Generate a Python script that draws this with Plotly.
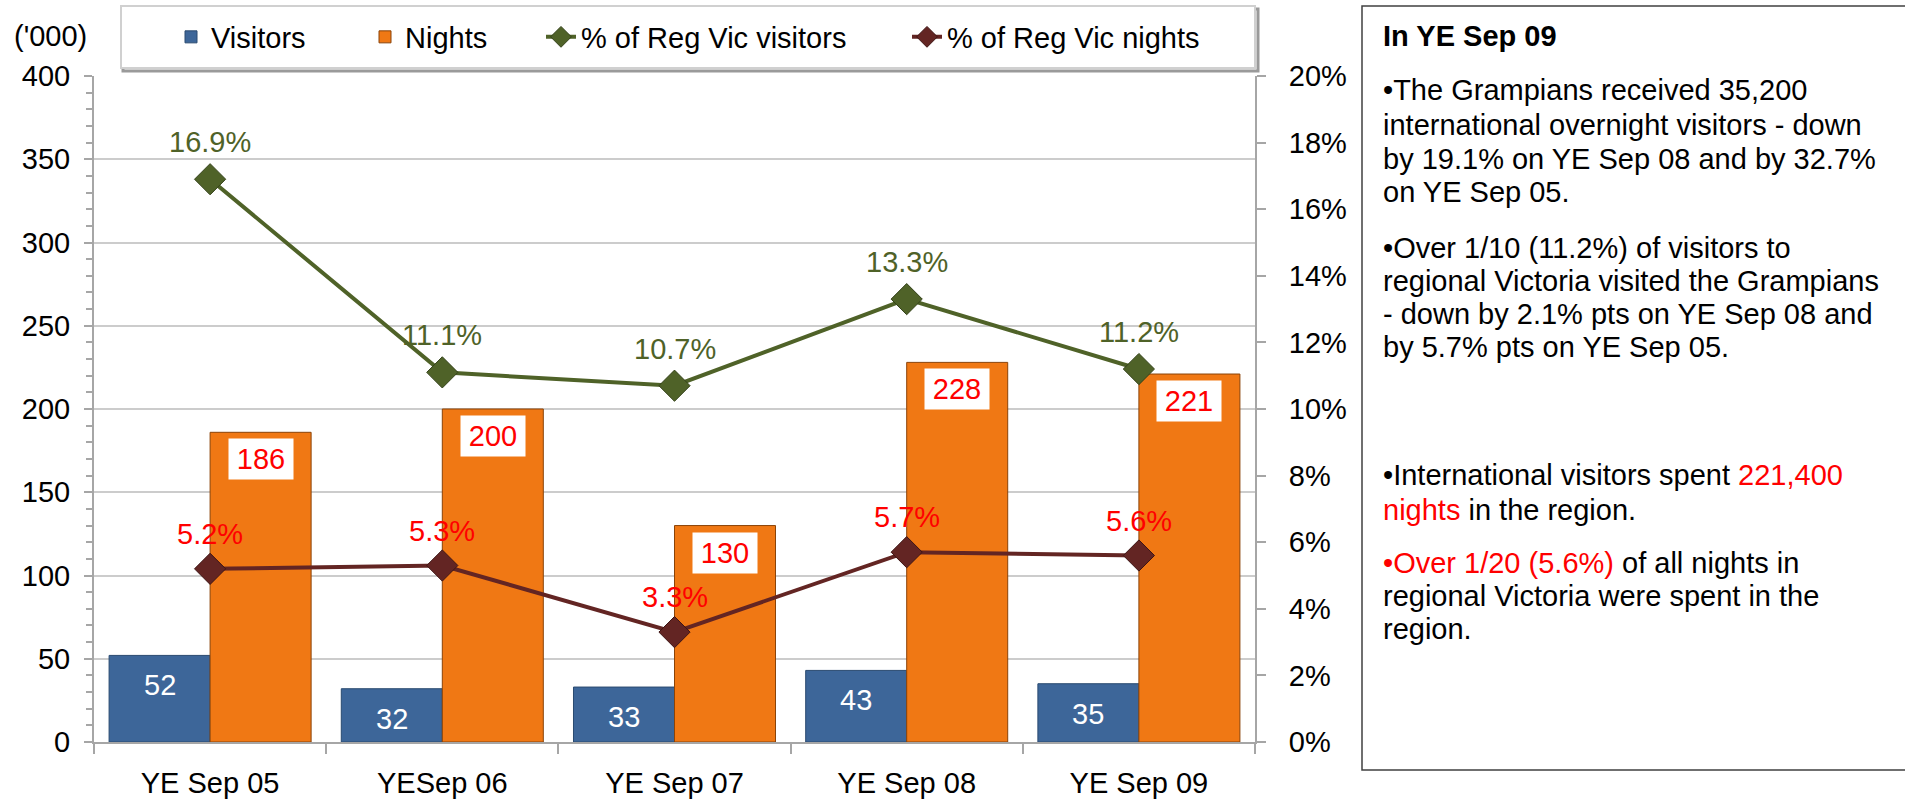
import plotly.graph_objects as go

W, H = 1905, 803
L, R, T, B = 94, 650, 76, 61
PW, PH = W - L - R, H - T - B

periods = ["YE Sep 05", "YESep 06", "YE Sep 07", "YE Sep 08", "YE Sep 09"]
visitors = [52, 32, 33, 43, 35]
nights = [186, 200, 130, 228, 221]
pct_visitors = [16.9, 11.1, 10.7, 13.3, 11.2]
pct_nights = [5.2, 5.3, 3.3, 5.7, 5.6]

RED_OPEN = "<span style='color:#ff0000'>"
box_lines = [
    ("<b>In YE Sep 09</b>", 36),
    ("•The Grampians received 35,200", 90),
    ("international overnight visitors - down", 125),
    ("by 19.1% on YE Sep 08 and by 32.7%", 159),
    ("on YE Sep 05.", 192),
    ("•Over 1/10 (11.2%) of visitors to", 248),
    ("regional Victoria visited the Grampians", 281),
    ("- down by 2.1% pts on YE Sep 08 and", 314),
    ("by 5.7% pts on YE Sep 05.", 347),
    ("•International visitors spent " + RED_OPEN + "221,400</span>", 475),
    (RED_OPEN + "nights</span> in the region.", 510),
    (RED_OPEN + "•Over 1/20 (5.6%)</span> of all nights in", 563),
    ("regional Victoria were spent in the", 596),
    ("region.", 629),
]

FONT = "Liberation Sans, Arial, sans-serif"
FS = 29
BLUE = "#3d6699"
ORANGE = "#f07814"
GREEN = "#4f6228"
MAROON = "#632523"
AXIS = "#a6a6a6"


def px_x(px):
    return (px - L) / PW


def px_y(py):
    return (H - B - py) / PH


BAR_OFF = (1 - 0.13) / 4

fig = go.Figure()
fig.add_trace(go.Bar(x=periods, y=visitors, name="Visitors", legend="legend",
                     marker=dict(color=BLUE, line=dict(color="#2a4a70", width=1))))
fig.add_trace(go.Bar(x=periods, y=nights, name="Nights", legend="legend2",
                     marker=dict(color=ORANGE, line=dict(color="#8a4308", width=1))))
fig.add_trace(go.Scatter(x=periods, y=pct_visitors, name="% of Reg Vic visitors", yaxis="y2",
                         legend="legend3", mode="lines+markers",
                         line=dict(color=GREEN, width=4),
                         marker=dict(symbol="diamond", size=24, color=GREEN,
                                     line=dict(color="#34421a", width=1))))
fig.add_trace(go.Scatter(x=periods, y=pct_nights, name="% of Reg Vic nights", yaxis="y2",
                         legend="legend4", mode="lines+markers",
                         line=dict(color=MAROON, width=4),
                         marker=dict(symbol="diamond", size=24, color=MAROON,
                                     line=dict(color="#3e1514", width=1))))

ann = []
# bar value labels
for i, v in enumerate(visitors):
    ann.append(dict(x=i - BAR_OFF, y=v, xref="x", yref="y", text=str(v), showarrow=False,
                    yshift=-30, font=dict(color="white", size=FS, family=FONT)))
for i, v in enumerate(nights):
    ann.append(dict(x=i + BAR_OFF, y=v, xref="x", yref="y", text=str(v), showarrow=False,
                    yshift=-27, bgcolor="white", width=62, height=38,
                    font=dict(color="#ff0000", size=FS, family=FONT)))
# line labels
for i, v in enumerate(pct_visitors):
    ann.append(dict(x=i, y=v, xref="x", yref="y2", text=f"{v:.1f}%", showarrow=False,
                    yshift=37, font=dict(color=GREEN, size=FS, family=FONT)))
for i, v in enumerate(pct_nights):
    ann.append(dict(x=i, y=v, xref="x", yref="y2", text=f"{v:.1f}%", showarrow=False,
                    yshift=35, font=dict(color="#ff0000", size=FS, family=FONT)))

ann.append(dict(x=px_x(12), y=px_y(36), xref="paper", yref="paper", text="('000)",
                showarrow=False, xanchor="left", yanchor="middle",
                font=dict(color="black", size=FS, family=FONT)))

# side text box
for txt, cy in box_lines:
    ann.append(dict(x=px_x(1381), y=px_y(cy), xref="paper", yref="paper", text=txt,
                    showarrow=False, xanchor="left", yanchor="middle", align="left",
                    font=dict(color="black", size=29, family=FONT)))

shapes = [
    dict(type="rect", xref="paper", yref="paper", x0=px_x(1362), x1=px_x(1912),
         y0=px_y(770), y1=px_y(6), line=dict(color="#404040", width=1.5), layer="below"),
    dict(type="rect", xref="paper", yref="paper", x0=px_x(123), x1=px_x(1258),
         y0=px_y(71), y1=px_y(9), line=dict(color="#9a9a9a", width=3), layer="below"),
    dict(type="rect", xref="paper", yref="paper", x0=px_x(121), x1=px_x(1255),
         y0=px_y(68), y1=px_y(6), line=dict(color="#d0d0d0", width=2),
         fillcolor="white", layer="below"),
]

legend_text_x = [213, 407, 583, 949]
legends = {}
for k, tx in zip(["legend", "legend2", "legend3", "legend4"], legend_text_x):
    legends[k] = dict(x=px_x(tx - 42), y=px_y(37), xanchor="left", yanchor="middle",
                      orientation="h", bgcolor="rgba(0,0,0,0)",
                      font=dict(size=FS, family=FONT, color="black"))

fig.update_layout(
    width=W, height=H,
    margin=dict(l=L, r=R, t=T, b=B, autoexpand=False),
    paper_bgcolor="white", plot_bgcolor="rgba(0,0,0,0)",
    font=dict(family=FONT, size=FS, color="black"),
    barmode="group", bargap=0.13, bargroupgap=0,
    showlegend=True,
    xaxis=dict(showline=True, linecolor=AXIS, linewidth=2, ticks="outside",
               tickson="boundaries", ticklen=10, tickcolor=AXIS, tickwidth=2,
               ticklabelstandoff=14, tickfont=dict(size=FS), automargin=False),
    yaxis=dict(range=[0, 400], dtick=50, showline=True, linecolor=AXIS, linewidth=2,
               ticks="outside", ticklen=8, tickcolor=AXIS, tickwidth=2,
               gridcolor="#cccccc", gridwidth=1.5, zeroline=False,
               ticklabelstandoff=8, tickfont=dict(size=FS), automargin=False,
               minor=dict(dtick=10, ticks="outside", ticklen=6, tickcolor=AXIS,
                          tickwidth=1.5, showgrid=False)),
    yaxis2=dict(range=[0, 20], dtick=2, ticksuffix="%", overlaying="y", side="right",
                showline=True, linecolor=AXIS, linewidth=2, ticks="outside", ticklen=9,
                tickcolor=AXIS, tickwidth=2, showgrid=False, zeroline=False,
                ticklabelstandoff=17, tickfont=dict(size=FS), automargin=False),
    annotations=ann,
    shapes=shapes,
    **legends,
)

# page body has a default 8px margin; drop it so the figure sits at the window origin
fig.write_html("out.html", config={"displayModeBar": False},
               post_script="document.body.style.margin='0px';")
